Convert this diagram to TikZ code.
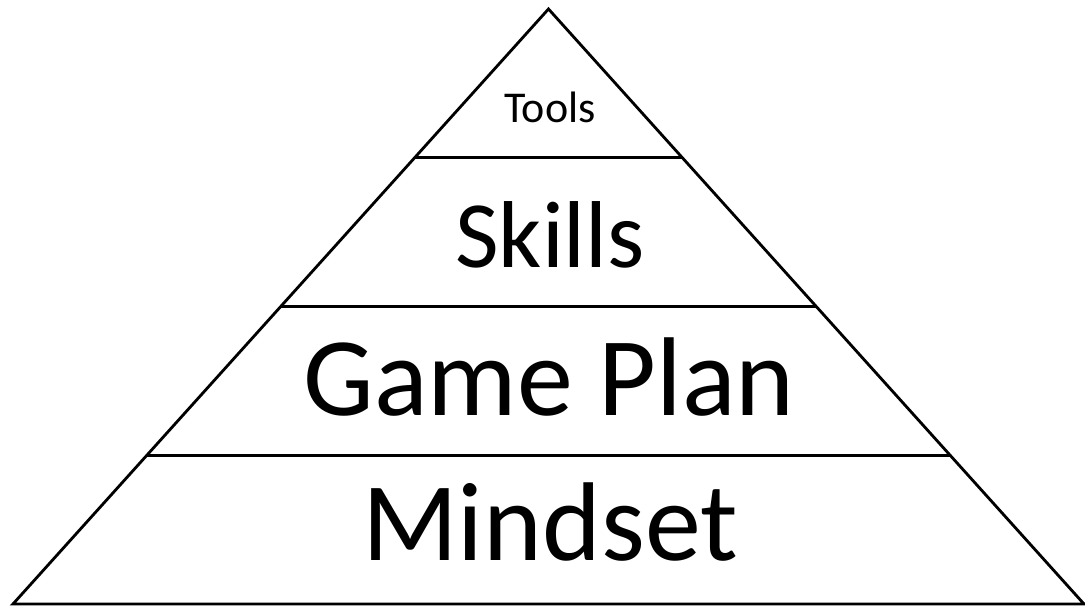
\documentclass[tikz,border=0pt]{standalone}
\usepackage{fontspec}
\setmainfont{Carlito}
\usepackage{tikz}
\usetikzlibrary{calc}
\tikzset{
	tier/.style={line width=2.8pt, color=black, line join=miter},
	tierlabel/.style={anchor=base, inner sep=0pt, text=black},
}

\begin{document}
\begin{tikzpicture}[x=1pt, y=-1pt]
			%%%%% START %%%%%
			\useasboundingbox (0, 0) rectangle (1085, 610);
			
			\coordinate (apex) at (548.5, 9);
			\coordinate (baseL) at (13, 604);
			\coordinate (baseR) at (1084, 604);
			
			\draw[tier] (baseL) -- (apex) -- (baseR) -- cycle;
			
			\coordinate (lvlAL) at ($(baseL)!0.25!(apex)$);
			\coordinate (lvlAR) at ($(baseR)!0.25!(apex)$);
			\coordinate (lvlBL) at ($(baseL)!0.5!(apex)$);
			\coordinate (lvlBR) at ($(baseR)!0.5!(apex)$);
			\coordinate (lvlCL) at ($(baseL)!0.75!(apex)$);
			\coordinate (lvlCR) at ($(baseR)!0.75!(apex)$);
			
			\draw[tier] (lvlAL) -- (lvlAR);
			\draw[tier] (lvlBL) -- (lvlBR);
			\draw[tier] (lvlCL) -- (lvlCR);
			
			\node[tierlabel, font=\fontsize{44}{50}\selectfont] (tools) at (550, 122) {Tools};
			\node[tierlabel, font=\fontsize{95}{100}\selectfont] (skills) at (550, 267) {Skills};
			\node[tierlabel, font=\fontsize{112}{120}\selectfont] (gameplan) at (549, 415) {Game Plan};
			\node[tierlabel, font=\fontsize{112}{120}\selectfont] (mindset) at (550, 560) {Mindset};
			
			%%%%% END %%%%%
\end{tikzpicture}
\end{document}
